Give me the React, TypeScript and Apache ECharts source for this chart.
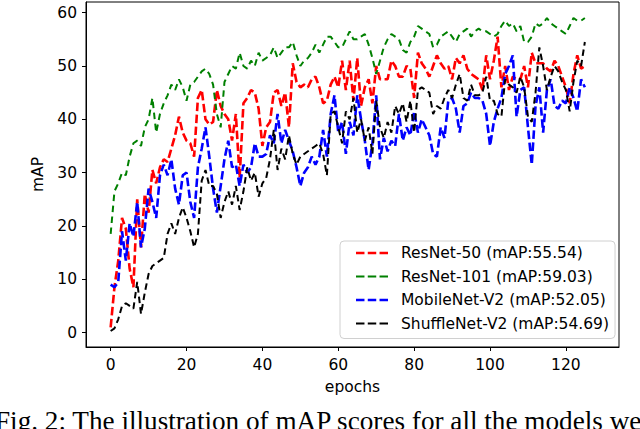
import React, { useEffect, useRef } from "react";
import * as echarts from "echarts";

const resnet50 = [
  1, 8.5, 13.5, 21.5, 19.5, 12, 8.5, 25, 16, 26,
  22.5, 30.5, 28, 31, 32.5, 32, 34.5, 37, 40.5, 37.5,
  36, 35.5, 33, 44, 45.5, 40, 39, 39.5, 45.5, 42.5,
  41, 40, 36, 41, 29, 43, 44, 45.5, 45, 42,
  35, 38.5, 39.5, 45, 45.5, 42.5, 45, 38.5, 50.5, 47,
  46, 46.5, 46, 47.5, 48, 46, 43, 43.5, 46.5, 48,
  46, 51, 45.5, 51, 43.5, 51.5, 42.5, 46, 47.5, 43,
  50, 47.5, 47.5, 47.5, 51, 50, 48, 48, 50, 49.5,
  44, 52.5, 50.5, 49.5, 48, 50, 52, 50.5, 49.5, 50,
  47.5, 51.5, 50.5, 52, 49.5, 48.5, 48, 47.5, 45.5, 52,
  47.5, 51, 55.5, 46, 50, 45.5, 48, 47.5, 47.5, 50,
  46, 52.5, 50.5, 50.5, 50.5, 49.5, 49, 51, 50, 48,
  46, 43, 48.5, 52, 49.5, 50,
];

const resnet101 = [
  18.5, 26.5, 28, 30, 29.5, 33, 35.5, 36, 35, 38.5,
  40, 44, 37.5, 41, 43, 44.5, 46.5, 45.5, 47.5, 46,
  43.5, 46.5, 47, 48, 49, 49.5, 48.5, 46.5, 41, 38.5,
  47, 48.5, 50, 49.5, 52.5, 50, 49.5, 51, 50, 52.5,
  51, 51.5, 52, 53.5, 51.5, 52.5, 53.5, 53.5, 54.5, 52,
  50, 51, 51.5, 52.5, 54, 52.5, 54, 55.5, 55.5, 54.5,
  53.5, 53.5, 55, 56.5, 55, 55, 55.5, 56, 54, 51.5,
  48.5, 51, 53.5, 55, 56, 55.5, 55, 53, 52.5, 54.5,
  55.5, 57.5, 57, 56.5, 56, 53.5, 54, 55.5, 56, 56.5,
  55.5, 54.5, 56, 56.5, 57, 55.5, 56.5, 57, 56.5, 56.5,
  56, 55.5, 56, 57.5, 58.5, 57.5, 58, 56.5, 57.5, 54.5,
  54.5, 55.5, 58, 57.5, 58, 59, 58, 57.5, 57, 56.5,
  56, 57.5, 59, 58.5, 58.5, 59,
];

const mobilenetV2 = [
  9, 8.5, 9.5, 19, 13.5, 20.5, 18, 24.5, 16, 19.5,
  27, 24.5, 21.5, 29.5, 31.5, 29.5, 32.5, 27, 24, 29.5,
  30, 24.5, 21.5, 31, 34.5, 38.5, 33, 27, 22.5, 27.5,
  32.5, 36, 31, 31.5, 27.5, 31.5, 30, 31, 35.5, 33,
  33, 33.5, 37, 35.5, 41, 35.5, 38, 36, 34, 31,
  27.5, 30, 31, 33, 31.5, 33, 38, 33, 41, 44.5,
  37.5, 39.5, 33.5, 39.5, 37, 44.5, 40, 36, 30.5, 35.5,
  44.5, 32.5, 36.5, 34, 36, 35, 41, 36, 38.5, 37,
  41.5, 37.5, 40, 38.5, 37, 33.5, 33, 38.5, 36.5, 43.5,
  44, 42, 37.5, 42.5, 43, 45, 44, 44, 43.5, 41,
  35, 39.5, 42, 44, 48.5, 50, 52, 40.5, 45.5, 46,
  38.5, 31.5, 42.5, 46, 37.5, 45.5, 47.5, 42.5, 42, 43.5,
  43, 46, 44, 41.5, 47.5, 46,
];

const shufflenetV2 = [
  0.3, 0.8, 2.5, 5, 5.5, 5, 4.5, 9.5, 3.5, 7.5,
  11, 12.5, 13, 13.5, 14, 18.5, 20.5, 18.5, 21.5, 23.5,
  21.5, 19, 16, 18.5, 28.5, 30.5, 27.5, 27.5, 26, 21.5,
  24.5, 26.5, 24, 27.5, 23, 26.5, 31, 28.5, 30, 25.5,
  28, 29, 32.5, 38, 30.5, 34.5, 32.5, 37, 33.5, 31.5,
  33, 33.5, 34, 34.5, 35, 35.5, 33.5, 29.5, 41, 41.5,
  38.5, 35.5, 41.5, 40, 44, 37.5, 40, 36, 38.5, 33.5,
  43.5, 38.5, 36.5, 39.5, 37.5, 42.5, 41, 43, 39.5, 43.5,
  37.5, 45.5, 46, 45.5, 45, 41, 42.5, 42, 44, 45.5,
  44, 46.5, 48.5, 44, 43.5, 46.5, 44.5, 44.5, 45, 48,
  43.5, 43.5, 41, 40.5, 47.5, 46.5, 46, 45, 48, 46,
  40.5, 39.5, 45, 53.5, 50, 45.5, 48, 50, 49, 47,
  45.5, 41.5, 47, 51, 50, 54.5,
];

const seriesNames = [
  "ResNet-50 (mAP:55.54)",
  "ResNet-101 (mAP:59.03)",
  "MobileNet-V2 (mAP:52.05)",
  "ShuffleNet-V2 (mAP:54.69)",
];
const seriesData = [resnet50, resnet101, mobilenetV2, shufflenetV2];
const seriesColors = ["#ff0000", "#008000", "#0000ff", "#000000"];
const seriesWidths = [2.6, 2, 2.6, 2];
const seriesDash = [[8.5, 3.5], [6.5, 4.5], [8.5, 3.5], [6.5, 4]];

const xTicks = [0, 20, 40, 60, 80, 100, 120];
const yTicks = [0, 10, 20, 30, 40, 50, 60];
const caption = "Fig. 2: The illustration of mAP scores for all the models we";

const FONT = "DejaVu Sans";

export default function App() {
  const ref = useRef<HTMLDivElement>(null);

  useEffect(() => {
    if (!ref.current) return;
    const chart = echarts.init(ref.current, undefined, { renderer: "svg" });

    const series = seriesData.map((vals, s) => ({
      name: seriesNames[s],
      type: "line",
      showSymbol: false,
      symbol: "none",
      data: vals.map((v, i) => [i, v]),
      itemStyle: { color: seriesColors[s] },
      lineStyle: {
        color: seriesColors[s],
        width: seriesWidths[s],
        type: seriesDash[s],
      },
      z: 2 + s,
    }));

    const dashIcon = (w: number) =>
      `path://M0,0H9V${w}H0Z M12.5,0H21.5V${w}H12.5Z M25,0H34V${w}H25Z`;

    chart.setOption({
      animation: false,
      backgroundColor: "#ffffff",
      grid: {
        left: 86,
        right: 21,
        top: 2,
        bottom: 82,
        show: true,
        borderColor: "#000",
        borderWidth: 1,
        backgroundColor: "transparent",
      },
      xAxis: {
        type: "value",
        min: -6.5,
        max: 134,
        name: "epochs",
        nameLocation: "middle",
        nameGap: 32,
        nameTextStyle: { fontFamily: FONT, fontSize: 15.5, color: "#000" },
        axisLine: { show: true, onZero: false, lineStyle: { color: "#000", width: 1 } },
        axisTick: {
          show: true,
          length: 4,
          customValues: xTicks,
          lineStyle: { color: "#000", width: 1 },
        },
        axisLabel: {
          customValues: xTicks,
          margin: 10,
          fontFamily: FONT,
          fontSize: 15.5,
          color: "#000",
        },
        splitLine: { show: false },
      },
      yAxis: {
        type: "value",
        min: -2.7,
        max: 62,
        name: "mAP",
        nameLocation: "middle",
        nameGap: 37,
        nameTextStyle: { fontFamily: FONT, fontSize: 15.5, color: "#000" },
        axisLine: { show: true, onZero: false, lineStyle: { color: "#000", width: 1 } },
        axisTick: {
          show: true,
          length: 4,
          customValues: yTicks,
          lineStyle: { color: "#000", width: 1 },
        },
        axisLabel: {
          customValues: yTicks,
          margin: 9,
          fontFamily: FONT,
          fontSize: 15.5,
          color: "#000",
        },
        splitLine: { show: false },
      },
      legend: {
        orient: "vertical",
        left: 340,
        top: 241,
        padding: [3, 6, 6, 16],
        itemGap: 5.5,
        itemWidth: 32,
        itemHeight: 3,
        backgroundColor: "rgba(255,255,255,0.8)",
        borderColor: "#d0d0d0",
        borderWidth: 1,
        borderRadius: 4,
        textStyle: {
          fontFamily: FONT,
          fontSize: 15.5,
          color: "#000",
          lineHeight: 18,
          padding: [0, 0, 0, 8],
        },
        data: seriesNames.map((n, s) => ({
          name: n,
          icon: dashIcon(s === 0 || s === 2 ? 2.8 : 2),
        })),
      },
      graphic: [
        {
          type: "text",
          x: -5,
          y: 407,
          silent: true,
          style: {
            text: caption,
            font: '27.2px "Liberation Serif"',
            fill: "#000",
            verticalAlign: "top",
          },
        },
      ],
      series,
    });

    return () => {
      chart.dispose();
    };
  }, []);

  return (
    <div
      ref={ref}
      style={{ position: "absolute", left: 0, top: 0, width: 640, height: 429 }}
    />
  );
}
